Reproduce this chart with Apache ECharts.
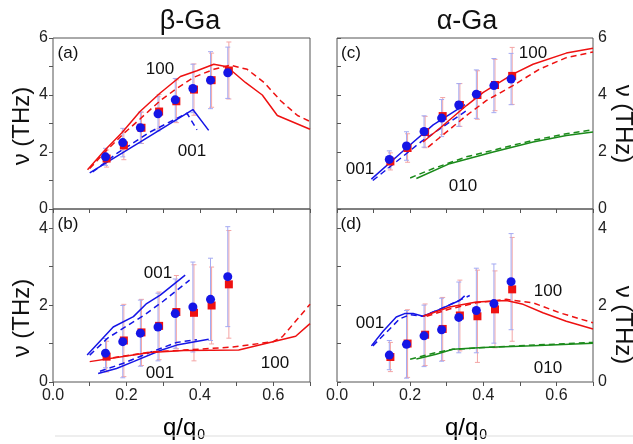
<!DOCTYPE html>
<html>
<head>
<meta charset="utf-8">
<script src="https://cdn.jsdelivr.net/npm/echarts@6/dist/echarts.min.js"></script>
<style>
  html, body { margin: 0; padding: 0; background: #ffffff; }
  #chart { width: 633px; height: 444px; }
</style>
</head>
<body>
<div id="chart"></div>
<script>
// measured points (blue circles / red squares), same q for every panel
var qBlue = [0.143, 0.190, 0.238, 0.286, 0.333, 0.381, 0.429, 0.476];
var qRed = [0.146, 0.193, 0.241, 0.289, 0.336, 0.384, 0.432, 0.479];

// (a) beta-Ga, upper branch
var aBlue = [1.83, 2.33, 2.85, 3.34, 3.83, 4.23, 4.52, 4.78];
var aBlueErr = [0.3, 0.5, 0.55, 0.6, 0.75, 0.85, 1.0, 0.9];
var aRed = [1.77, 2.23, 2.85, 3.42, 3.78, 4.19, 4.52, 4.86];
var aRedErr = [0.3, 0.5, 0.55, 0.6, 0.75, 0.9, 0.95, 1.0];
var aRedSolid = [[0.094, 1.38], [0.141, 2.06], [0.187, 2.67], [0.237, 3.42], [0.292, 4.07], [0.347, 4.65], [0.392, 4.85], [0.438, 5.08], [0.474, 4.99], [0.524, 4.44], [0.57, 4.0], [0.611, 3.28], [0.7, 2.8]];
var aRedDash = [[0.1, 1.42], [0.146, 2.06], [0.192, 2.64], [0.237, 3.16], [0.292, 3.8], [0.337, 4.23], [0.383, 4.62], [0.438, 4.9], [0.483, 5.05], [0.529, 4.9], [0.575, 4.44], [0.62, 3.8], [0.666, 3.28], [0.7, 3.07]];
var aBlueSolid = [[0.1, 1.27], [0.237, 2.35], [0.381, 3.49], [0.424, 2.76]];
var aBlueDash = [[0.108, 1.3], [0.173, 1.94], [0.264, 2.7], [0.365, 3.36], [0.392, 2.78]];

// (b) beta-Ga, lower branch
var bBlue = [0.75, 1.05, 1.27, 1.43, 1.78, 1.95, 2.15, 2.74];
var bBlueErr = [0.38, 0.94, 0.86, 0.88, 0.9, 1.17, 1.07, 1.3];
var bRed = [0.66, 1.08, 1.29, 1.46, 1.82, 1.80, 1.99, 2.54];
var bRedErr = [0.4, 0.94, 0.86, 0.88, 0.95, 1.25, 1.0, 1.4];
var bBlueSolidUp = [[0.093, 0.7], [0.164, 1.43], [0.219, 1.7], [0.255, 2.04], [0.292, 2.26], [0.36, 2.78]];
var bBlueDashUp = [[0.1, 0.7], [0.15, 1.15], [0.2, 1.45], [0.25, 1.75], [0.3, 2.1], [0.372, 2.65]];
var bBlueSolidLow = [[0.123, 0.22], [0.173, 0.35], [0.219, 0.53], [0.292, 0.82], [0.337, 0.96], [0.424, 1.11]];
var bBlueDashLow = [[0.128, 0.28], [0.19, 0.48], [0.264, 0.77], [0.337, 1.03], [0.392, 1.1]];
var bRedSolid = [[0.1, 0.53], [0.173, 0.64], [0.264, 0.77], [0.356, 0.82], [0.506, 0.83], [0.661, 1.19], [0.7, 1.52]];
var bRedDash = [[0.137, 0.59], [0.264, 0.78], [0.356, 0.83], [0.49, 0.91], [0.6, 1.05], [0.625, 1.18], [0.7, 2.02]];

// (c) alpha-Ga, upper branch
var cBlue = [1.74, 2.21, 2.72, 3.19, 3.65, 4.03, 4.33, 4.56];
var cBlueErr = [0.3, 0.5, 0.55, 0.65, 0.75, 0.85, 0.95, 0.9];
var cRed = [1.67, 2.14, 2.70, 3.26, 3.65, 4.0, 4.35, 4.67];
var cRedErr = [0.3, 0.5, 0.55, 0.65, 0.75, 0.85, 0.9, 1.0];
var cBlueSolid = [[0.094, 1.05], [0.19, 2.14], [0.263, 2.95], [0.35, 3.66]];
var cBlueDash = [[0.098, 1.0], [0.2, 2.05], [0.231, 2.37], [0.354, 3.45]];
var cRedSolid = [[0.235, 2.35], [0.29, 2.93], [0.354, 3.63], [0.4, 4.09], [0.481, 4.73], [0.536, 5.08], [0.627, 5.47], [0.7, 5.64]];
var cRedDash = [[0.249, 2.17], [0.299, 2.7], [0.354, 3.28], [0.408, 3.8], [0.481, 4.33], [0.554, 4.91], [0.627, 5.31], [0.7, 5.51]];
var cGreenSolid = [[0.217, 1.07], [0.308, 1.59], [0.427, 2.0], [0.536, 2.35], [0.627, 2.58], [0.7, 2.7]];
var cGreenDash = [[0.2, 1.09], [0.263, 1.42], [0.354, 1.83], [0.445, 2.12], [0.536, 2.41], [0.627, 2.64], [0.7, 2.78]];

// (d) alpha-Ga, lower branch
var dBlue = [0.70, 0.98, 1.20, 1.36, 1.68, 1.86, 2.04, 2.61];
var dBlueErr = [0.38, 0.88, 0.8, 0.82, 0.92, 1.1, 1.03, 1.25];
var dRed = [0.65, 1.0, 1.23, 1.38, 1.73, 1.71, 1.89, 2.41];
var dRedErr = [0.38, 0.88, 0.8, 0.82, 0.92, 1.2, 1.0, 1.35];
var dBlueSolid = [[0.094, 0.94], [0.126, 1.32], [0.162, 1.69], [0.185, 1.78], [0.208, 1.78], [0.235, 1.71], [0.281, 1.89], [0.335, 2.12], [0.349, 2.24]];
var dBlueDash = [[0.098, 0.94], [0.135, 1.29], [0.171, 1.64], [0.199, 1.75], [0.235, 1.71], [0.29, 1.93], [0.363, 2.25]];
var dRedSolid = [[0.235, 1.71], [0.308, 1.95], [0.381, 2.08], [0.463, 2.12], [0.509, 2.02], [0.563, 1.8], [0.627, 1.58], [0.7, 1.38]];
var dRedDash = [[0.245, 1.71], [0.308, 1.9], [0.381, 2.06], [0.463, 2.15], [0.536, 2.06], [0.609, 1.8], [0.7, 1.54]];
var dGreenSolid = [[0.217, 0.6], [0.271, 0.72], [0.317, 0.85], [0.399, 0.9], [0.536, 0.94], [0.7, 1.01]];
var dGreenDash = [[0.2, 0.59], [0.263, 0.75], [0.317, 0.85], [0.445, 0.92], [0.7, 1.03]];

var RED = '#ee1111', BLUE = '#1515e6', GREEN = '#1a8a1a';
var FONT = 'Liberation Sans, Arial, sans-serif';

var chart = echarts.init(document.getElementById('chart'));

function pts(q, v) {
    return q.map(function (x, i) { return [x, v[i]]; });
}
function errData(q, v, e) {
    return q.map(function (x, i) { return [x, v[i] - e[i], v[i] + e[i]]; });
}
function errSeries(g, data, color) {
    return {
        type: 'custom', xAxisIndex: g, yAxisIndex: g, z: 1, data: data,
        encode: { x: 0, y: [1, 2] },
        renderItem: function (params, api) {
            var top = api.coord([api.value(0), api.value(2)]);
            var bot = api.coord([api.value(0), api.value(1)]);
            var w = 2.5;
            var st = { stroke: color, lineWidth: 1 };
            return {
                type: 'group', children: [
                    { type: 'line', shape: { x1: top[0], y1: top[1], x2: bot[0], y2: bot[1] }, style: st },
                    { type: 'line', shape: { x1: top[0] - w, y1: top[1], x2: top[0] + w, y2: top[1] }, style: st },
                    { type: 'line', shape: { x1: bot[0] - w, y1: bot[1], x2: bot[0] + w, y2: bot[1] }, style: st }
                ]
            };
        }
    };
}
function lineSeries(g, data, color, dashed) {
    return {
        type: 'line', xAxisIndex: g, yAxisIndex: g, z: 2, data: data,
        symbol: 'none', smooth: false,
        lineStyle: { color: color, width: 1.5, type: dashed ? [6, 4] : 'solid' }
    };
}
function markSeries(g, data, color, symbol, size, z) {
    return {
        type: 'scatter', xAxisIndex: g, yAxisIndex: g, z: z, data: data,
        symbol: symbol, symbolSize: size, itemStyle: { color: color, opacity: 1 }
    };
}
function panel(g, blue, blueErr, red, redErr) {
    return [
        errSeries(g, errData(qRed, red, redErr), '#f4a5a5'),
        errSeries(g, errData(qBlue, blue, blueErr), '#a5aaf2'),
        markSeries(g, pts(qRed, red), RED, 'rect', 8, 3),
        markSeries(g, pts(qBlue, blue), BLUE, 'circle', 9, 4)
    ];
}

function xAxis(g, showLabels) {
    return {
        type: 'value', gridIndex: g, min: 0, max: 0.7, interval: 0.1,
        axisLine: { show: false },
        axisTick: { show: true, length: 4, lineStyle: { color: '#555' } },
        splitLine: { show: false },
        axisLabel: {
            show: showLabels, color: '#222', fontSize: 16, fontFamily: FONT, margin: 6,
            formatter: function (v) { return Math.round(v * 10) % 2 === 0 ? v.toFixed(1) : ''; }
        }
    };
}
function yAxis(g, max, pos) {
    return {
        type: 'value', gridIndex: g, min: 0, max: max, interval: 1, position: pos,
        axisLine: { show: false },
        axisTick: { show: true, length: 4, lineStyle: { color: '#555' } },
        splitLine: { show: false },
        axisLabel: {
            color: '#222', fontSize: 16, fontFamily: FONT, margin: 5,
            formatter: function (v) { return v % 2 === 0 ? String(v) : ''; }
        }
    };
}
function txt(x, y, s, size, rot) {
    return {
        type: 'text', x: x, y: y, rotation: rot || 0, silent: true,
        style: { text: s, fill: '#111', font: size + 'px ' + FONT, textAlign: 'center', textVerticalAlign: 'middle' }
    };
}

var gridBox = { show: true, borderColor: '#555', borderWidth: 1, backgroundColor: 'transparent' };

var series = [].concat(
    panel(0, aBlue, aBlueErr, aRed, aRedErr),
    [lineSeries(0, aRedSolid, RED, false), lineSeries(0, aRedDash, RED, true),
     lineSeries(0, aBlueSolid, BLUE, false), lineSeries(0, aBlueDash, BLUE, true)],
    panel(1, bBlue, bBlueErr, bRed, bRedErr),
    [lineSeries(1, bBlueSolidUp, BLUE, false), lineSeries(1, bBlueDashUp, BLUE, true),
     lineSeries(1, bBlueSolidLow, BLUE, false), lineSeries(1, bBlueDashLow, BLUE, true),
     lineSeries(1, bRedSolid, RED, false), lineSeries(1, bRedDash, RED, true)],
    panel(2, cBlue, cBlueErr, cRed, cRedErr),
    [lineSeries(2, cBlueSolid, BLUE, false), lineSeries(2, cBlueDash, BLUE, true),
     lineSeries(2, cRedSolid, RED, false), lineSeries(2, cRedDash, RED, true),
     lineSeries(2, cGreenSolid, GREEN, false), lineSeries(2, cGreenDash, GREEN, true)],
    panel(3, dBlue, dBlueErr, dRed, dRedErr),
    [lineSeries(3, dBlueSolid, BLUE, false), lineSeries(3, dBlueDash, BLUE, true),
     lineSeries(3, dRedSolid, RED, false), lineSeries(3, dRedDash, RED, true),
     lineSeries(3, dGreenSolid, GREEN, false), lineSeries(3, dGreenDash, GREEN, true)]
);

var qName = {
    type: 'text', silent: true,
    style: {
        text: '{q|q/q}{s|0}', textAlign: 'center', textVerticalAlign: 'middle',
        rich: {
            q: { fontSize: 24, fontFamily: FONT, color: '#111' },
            s: { fontSize: 14, fontFamily: FONT, color: '#111', padding: [14, 0, 0, 1] }
        }
    }
};

option = {
    animation: false,
    grid: [
        Object.assign({ left: 53, top: 38, width: 257, height: 171 }, gridBox),
        Object.assign({ left: 53, top: 209, width: 257, height: 173 }, gridBox),
        Object.assign({ left: 337, top: 38, width: 256, height: 171 }, gridBox),
        Object.assign({ left: 337, top: 209, width: 256, height: 173 }, gridBox)
    ],
    xAxis: [xAxis(0, false), xAxis(1, true), xAxis(2, false), xAxis(3, true)],
    yAxis: [yAxis(0, 6, 'left'), yAxis(1, 4.5, 'left'), yAxis(2, 6, 'right'), yAxis(3, 4.5, 'right')],
    graphic: [
        txt(190, 22, 'β-Ga', 27),
        txt(467, 22, 'α-Ga', 27),
        txt(22, 126, 'ν (THz)', 24, Math.PI / 2),
        txt(22, 318, 'ν (THz)', 24, Math.PI / 2),
        txt(623, 124, 'ν (THz)', 24, -Math.PI / 2),
        txt(623, 325, 'ν (THz)', 24, -Math.PI / 2),
        Object.assign({ x: 184, y: 428 }, qName),
        Object.assign({ x: 466, y: 428 }, qName),
        txt(68, 53, '(a)', 17), txt(160, 69, '100', 17), txt(192, 151, '001', 17),
        txt(68, 224, '(b)', 17), txt(158, 273, '001', 17), txt(160, 373, '001', 17), txt(275, 363, '100', 17),
        txt(351, 53, '(c)', 17), txt(360, 169, '001', 17), txt(463, 186, '010', 17), txt(533, 53, '100', 17),
        txt(351, 224, '(d)', 17), txt(370, 323, '001', 17), txt(548, 291, '100', 17), txt(548, 368, '010', 17),
        { type: 'line', silent: true, shape: { x1: 55, y1: 436, x2: 633, y2: 436 }, style: { stroke: '#dddddd', lineWidth: 1 } }
    ],
    series: series
};
chart.setOption(option);
</script>
</body>
</html>
